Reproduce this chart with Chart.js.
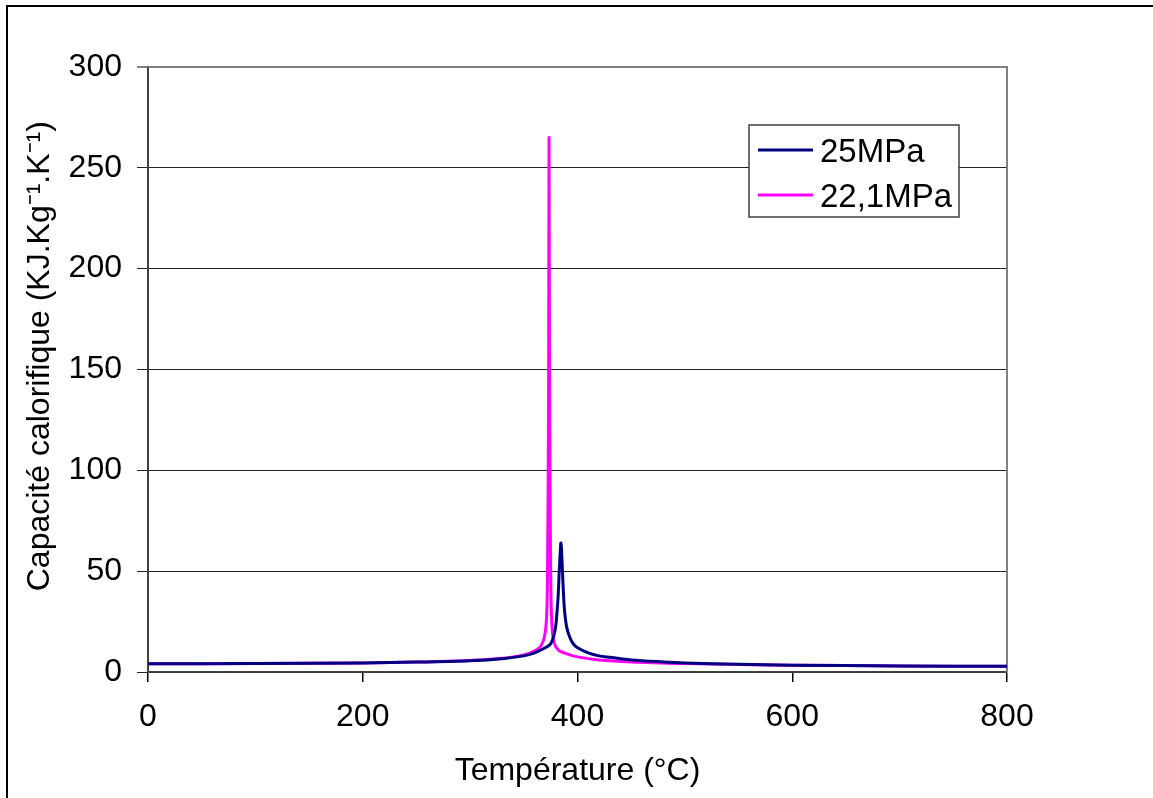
<!DOCTYPE html>
<html>
<head>
<meta charset="utf-8">
<script src="https://cdn.jsdelivr.net/npm/chart.js@4"></script>
<style>
  html, body { margin: 0; padding: 0; background: #fff; }
  #wrap { width: 1153px; height: 798px; position: relative; }
</style>
</head>
<body>
<div id="wrap"><canvas id="cpChart" width="1153" height="798"></canvas></div>
<script>
// ====== DATA ======
const seriesNames = ['25MPa', '22,1MPa'];
const seriesColors = ['#000080', '#FF00FF'];

// 25 MPa
const temp25 = [0, 100, 200, 250, 300, 330, 350, 360, 370, 375, 378, 380, 382, 383, 384, 384.5, 385, 386, 387, 388, 390, 393, 396, 400, 410, 420, 430, 450, 480, 500, 550, 600, 700, 800];
const cp25   = [4.1, 4.2, 4.5, 4.9, 5.6, 6.6, 8.0, 9.5, 12, 14, 18, 24, 38, 50, 60, 64, 62, 50, 38, 30, 22, 17, 14, 12, 9.5, 8, 7.3, 6, 5, 4.5, 3.8, 3.4, 3.0, 2.8];

// 22,1 MPa
const temp221 = [0, 100, 200, 250, 300, 330, 340, 350, 356, 362, 366, 369, 371, 372, 373, 373.5, 374, 375, 376, 378, 382, 390, 400, 420, 450, 500, 550, 600, 700, 800];
const cp221   = [4.1, 4.2, 4.5, 4.9, 5.7, 6.8, 7.5, 8.5, 9.5, 11, 13, 17, 25, 45, 130, 265, 140, 50, 25, 15, 11, 9, 7.5, 6, 5, 4.2, 3.7, 3.4, 3.0, 2.8];

const xTicks = [0, 200, 400, 600, 800];
const yTicks = [0, 50, 100, 150, 200, 250, 300];

const FONT = "'Liberation Sans', Arial, sans-serif";

function toPoints(xs, ys) {
  return xs.map((x, i) => ({ x: x, y: ys[i] }));
}

// frame, plot border and in-plot legend
const decorPlugin = {
  id: 'decor',
  beforeDatasetsDraw(chart) {
    const { ctx, chartArea: a } = chart;
    ctx.save();
    ctx.strokeStyle = '#808080';
    ctx.lineWidth = 2;
    ctx.beginPath();
    ctx.moveTo(a.left, a.top);
    ctx.lineTo(a.right, a.top);
    ctx.lineTo(a.right, a.bottom);
    ctx.stroke();
    ctx.restore();
  },
  afterDraw(chart) {
    const { ctx } = chart;
    ctx.save();
    // outer frame (left + top)
    ctx.strokeStyle = '#000';
    ctx.lineWidth = 2;
    ctx.beginPath();
    ctx.moveTo(7, 798);
    ctx.lineTo(7, 6);
    ctx.lineTo(1153, 6);
    ctx.stroke();

    // legend box
    const bx = 749, by = 125, bw = 210, bh = 92;
    ctx.fillStyle = '#fff';
    ctx.fillRect(bx, by, bw, bh);
    ctx.strokeStyle = '#404040';
    ctx.lineWidth = 1.5;
    ctx.strokeRect(bx, by, bw, bh);
    ctx.font = '33px ' + FONT;
    ctx.textBaseline = 'middle';
    chart.data.datasets.forEach((ds, i) => {
      const y = by + 25 + i * 45;
      ctx.strokeStyle = ds.borderColor;
      ctx.lineWidth = 3;
      ctx.beginPath();
      ctx.moveTo(bx + 9, y);
      ctx.lineTo(bx + 64, y);
      ctx.stroke();
      ctx.fillStyle = '#000';
      ctx.fillText(ds.label, bx + 71, y + 3);
    });
    ctx.restore();
  }
};

document.addEventListener('DOMContentLoaded', () => {
  const ctx = document.getElementById('cpChart').getContext('2d');
  new Chart(ctx, {
    type: 'line',
    data: {
      datasets: [
        { label: seriesNames[0], data: toPoints(temp25, cp25), borderColor: seriesColors[0], borderWidth: 3, pointRadius: 0, tension: 0.3, fill: false },
        { label: seriesNames[1], data: toPoints(temp221, cp221), borderColor: seriesColors[1], borderWidth: 3, pointRadius: 0, tension: 0.3, fill: false }
      ]
    },
    plugins: [decorPlugin],
    options: {
      responsive: false,
      animation: false,
      layout: { padding: { left: 0, top: 67, right: 146, bottom: 0 } },
      plugins: {
        legend: { display: false },
        tooltip: { enabled: false }
      },
      scales: {
        x: {
          type: 'linear',
          min: 0, max: 800,
          afterFit: s => { s.height = 126; },
          afterBuildTicks: s => { s.ticks = xTicks.map(v => ({ value: v })); },
          grid: { drawOnChartArea: false, drawTicks: true, tickLength: 10, color: '#000', lineWidth: 1.5 },
          border: { display: true, color: '#404040', width: 2 },
          ticks: { color: '#000', font: { family: FONT, size: 32 }, padding: 16, maxRotation: 0 },
          title: { display: true, text: 'Température (°C)', color: '#000', font: { family: FONT, size: 32 }, padding: { top: 0, bottom: 8 } }
        },
        y: {
          min: 0, max: 300,
          afterFit: s => { s.width = 148; },
          afterBuildTicks: s => { s.ticks = yTicks.map(v => ({ value: v })); },
          grid: {
            drawTicks: true, tickLength: 11,
            color: c => (c.tick && c.tick.value === 300) ? '#808080' : '#222',
            lineWidth: c => (c.tick && c.tick.value === 300) ? 2 : 1
          },
          border: { display: true, color: '#404040', width: 2 },
          ticks: { color: '#000', font: { family: FONT, size: 32 }, padding: 15 },
          title: { display: true, text: '   Capacité calorifique (KJ.Kg⁻¹.K⁻¹)', color: '#000', font: { family: FONT, size: 32 }, padding: { top: 21, bottom: 0 } }
        }
      }
    }
  });
});
</script>
</body>
</html>
